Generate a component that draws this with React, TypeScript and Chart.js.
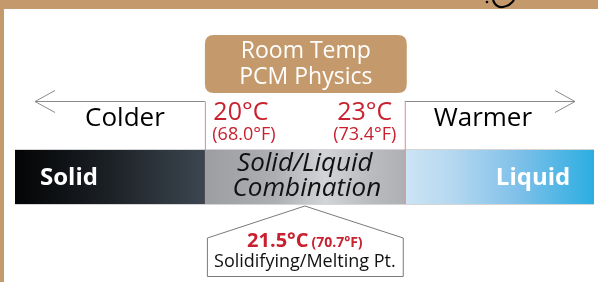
import React, { useEffect, useRef } from 'react';
import { Chart, registerables } from 'chart.js';

Chart.register(...registerables);

// ---- data ----
const phases = ['Solid', 'Solid/Liquid Combination', 'Liquid'];
const phaseStartC = [17.15, 20, 23];
const phaseEndC = [20, 23, 25.84];
const thresholdC = [20, 23];
const thresholdLabels = ['20°C', '23°C'];
const thresholdF = ['(68.0°F)', '(73.4°F)'];
const meltingPointC = 21.5;
const meltingLabel = '21.5°C';
const meltingF = '(70.7°F)';
const meltingCaption = 'Solidifying/Melting Pt.';
const directionLabels = ['Colder', 'Warmer'];
const titleLines = ['Room Temp', 'PCM Physics'];

// ---- styles ----
const FONT = "'Open Sans', 'Noto Sans', sans-serif";
const TAN = '#c49a6c';
const RED = '#c8202f';
const gradientStops: [number, string][][] = [
  [[0, '#030405'], [0.5, '#1c2126'], [1, '#3c4651']],
  [[0, '#9c9ea2'], [0.35, '#acaeb2'], [0.6, '#d2d4d7'], [0.8, '#bcbec2'], [1, '#aeb0b4']],
  [[0, '#cde4f4'], [0.25, '#b5d8f0'], [0.6, '#7fc0e9'], [1, '#2baee2']],
];

const decorPlugin = {
  id: 'decor',
  beforeDraw(chart: any) {
    const { ctx, width, height } = chart;
    ctx.save();
    ctx.fillStyle = '#ffffff';
    ctx.fillRect(0, 0, width, height);
    ctx.fillStyle = TAN;
    ctx.fillRect(0, 0, width, 9);
    ctx.fillRect(0, 0, 4, height);
    // small black icon fragment at top
    ctx.strokeStyle = '#000';
    ctx.lineWidth = 2.2;
    ctx.beginPath();
    ctx.moveTo(493, 0);
    ctx.quadraticCurveTo(496, 8, 503, 7);
    ctx.quadraticCurveTo(510, 6, 514, 0);
    ctx.stroke();
    ctx.fillStyle = '#000';
    ctx.beginPath();
    ctx.arc(487, 2, 1.3, 0, Math.PI * 2);
    ctx.fill();
    ctx.restore();
  },
  afterDatasetsDraw(chart: any) {
    const { ctx, chartArea } = chart;
    const xs = chart.scales.x;
    const p = (v: number) => xs.getPixelForValue(v);
    const xL = p(thresholdC[0]);
    const xR = p(thresholdC[1]);
    const xM = p(meltingPointC);
    const top = chartArea.top;
    const bot = chartArea.bottom;
    ctx.save();

    // light edge lines of the bar
    ctx.strokeStyle = '#d4d4d4';
    ctx.lineWidth = 1;
    ctx.beginPath();
    ctx.moveTo(chartArea.left, top - 0.5);
    ctx.lineTo(chartArea.right, top - 0.5);
    ctx.moveTo(chartArea.left, bot + 0.5);
    ctx.lineTo(chartArea.right, bot + 0.5);
    ctx.stroke();

    // title box
    const bx = xL, by = 35, bw = xR - xL + 2, bh = 58, r = 9;
    ctx.fillStyle = TAN;
    ctx.beginPath();
    ctx.moveTo(bx + r, by);
    ctx.lineTo(bx + bw - r, by);
    ctx.quadraticCurveTo(bx + bw, by, bx + bw, by + r);
    ctx.lineTo(bx + bw, by + bh - r);
    ctx.quadraticCurveTo(bx + bw, by + bh, bx + bw - r, by + bh);
    ctx.lineTo(bx + r, by + bh);
    ctx.quadraticCurveTo(bx, by + bh, bx, by + bh - r);
    ctx.lineTo(bx, by + r);
    ctx.quadraticCurveTo(bx, by, bx + r, by);
    ctx.fill();
    ctx.fillStyle = '#ffffff';
    ctx.textAlign = 'center';
    ctx.textBaseline = 'middle';
    ctx.font = `23px ${FONT}`;
    ctx.fillText(titleLines[0], bx + bw / 2, 51);
    ctx.fillText(titleLines[1], bx + bw / 2, 77);

    // arrows
    const ay = 101.5;
    const tipL = 35, tipR = 575;
    ctx.strokeStyle = '#8a8a8a';
    ctx.lineWidth = 1;
    ctx.beginPath();
    ctx.moveTo(xL, ay);
    ctx.lineTo(tipL, ay);
    ctx.moveTo(tipL + 20, ay - 11);
    ctx.lineTo(tipL, ay);
    ctx.lineTo(tipL + 20, ay + 11);
    ctx.moveTo(xR, ay);
    ctx.lineTo(tipR, ay);
    ctx.moveTo(tipR - 20, ay - 11);
    ctx.lineTo(tipR, ay);
    ctx.lineTo(tipR - 20, ay + 11);
    ctx.stroke();

    // red threshold lines
    ctx.strokeStyle = '#e3868d';
    ctx.beginPath();
    ctx.moveTo(xL + 0.5, ay);
    ctx.lineTo(xL + 0.5, bot);
    ctx.moveTo(xR + 0.5, ay);
    ctx.lineTo(xR + 0.5, bot);
    ctx.stroke();

    // direction labels
    ctx.fillStyle = '#000';
    ctx.font = `26px ${FONT}`;
    ctx.fillText(directionLabels[0], (tipL + xL) / 2 + 5, 119);
    ctx.fillText(directionLabels[1], (xR + tipR) / 2 - 7, 119);

    // threshold labels
    ctx.fillStyle = RED;
    ctx.font = `25px ${FONT}`;
    ctx.fillText(thresholdLabels[0], xL + 36, 113);
    ctx.fillText(thresholdLabels[1], xR - 40, 113);
    ctx.font = `18px ${FONT}`;
    ctx.fillText(thresholdF[0], xL + 39, 135);
    ctx.fillText(thresholdF[1], xR - 40, 135);

    // bar labels
    ctx.fillStyle = '#ffffff';
    ctx.font = `bold 24px ${FONT}`;
    ctx.fillText(phases[0], chartArea.left + 54, 178);
    ctx.fillText(phases[2], chartArea.right - 61, 178);
    ctx.fillStyle = '#111';
    ctx.font = `italic 26px ${FONT}`;
    const combo = phases[1].split(' ');
    ctx.fillText(combo[0], xM, 164);
    ctx.fillText(combo[1], xM + 2, 189);

    // callout pentagon
    const cx0 = xL + 2, cx1 = xR - 2;
    const cTop = bot + 2, cShoulder = 238, cBot = 276;
    ctx.strokeStyle = '#7a7a7a';
    ctx.lineWidth = 1;
    ctx.fillStyle = '#ffffff';
    ctx.beginPath();
    ctx.moveTo(xM, cTop);
    ctx.lineTo(cx1 + 0.5, cShoulder);
    ctx.lineTo(cx1 + 0.5, cBot + 0.5);
    ctx.lineTo(cx0 + 0.5, cBot + 0.5);
    ctx.lineTo(cx0 + 0.5, cShoulder);
    ctx.closePath();
    ctx.fill();
    ctx.stroke();

    ctx.textAlign = 'left';
    ctx.font = `bold 20px ${FONT}`;
    const w1 = ctx.measureText(meltingLabel).width;
    ctx.font = `bold 14px ${FONT}`;
    const w2 = ctx.measureText(meltingF).width;
    const gap = 3;
    const start = xM - (w1 + gap + w2) / 2;
    ctx.fillStyle = RED;
    ctx.textBaseline = 'alphabetic';
    ctx.font = `bold 20px ${FONT}`;
    ctx.fillText(meltingLabel, start, 247);
    ctx.font = `bold 14px ${FONT}`;
    ctx.fillText(meltingF, start + w1 + gap, 247);
    ctx.fillStyle = '#111';
    ctx.textAlign = 'center';
    ctx.textBaseline = 'middle';
    ctx.font = `18px ${FONT}`;
    ctx.fillText(meltingCaption, xM, 262);

    ctx.restore();
  },
};

export default function App() {
  const ref = useRef<HTMLCanvasElement | null>(null);
  useEffect(() => {
    if (!ref.current) return;
    const chart = new Chart(ref.current, {
      type: 'bar',
      data: {
        labels: ['PCM'],
        datasets: phases.map((name, i) => ({
          label: name,
          data: [[phaseStartC[i], phaseEndC[i]]] as any,
          grouped: false,
          barPercentage: 1,
          categoryPercentage: 1,
          borderWidth: 0,
          backgroundColor: (c: any) => {
            const ch = c.chart;
            if (!ch.chartArea) return '#888';
            const x0 = ch.scales.x.getPixelForValue(phaseStartC[i]);
            const x1 = ch.scales.x.getPixelForValue(phaseEndC[i]);
            const g = ch.ctx.createLinearGradient(x0, 0, x1, 0);
            gradientStops[i].forEach(([o, col]) => g.addColorStop(o, col));
            return g;
          },
        })),
      },
      options: {
        indexAxis: 'y',
        responsive: true,
        maintainAspectRatio: false,
        animation: false,
        layout: { padding: { left: 15, right: 4, top: 150, bottom: 78 } },
        scales: {
          x: { type: 'linear', min: phaseStartC[0], max: phaseEndC[2], display: false },
          y: { display: false },
        },
        plugins: { legend: { display: false }, tooltip: { enabled: false } },
      },
      plugins: [decorPlugin],
    });
    return () => chart.destroy();
  }, []);
  return (
    <div style={{ position: 'absolute', left: 0, top: 0, width: 598, height: 282 }}>
      <canvas ref={ref} />
    </div>
  );
}
